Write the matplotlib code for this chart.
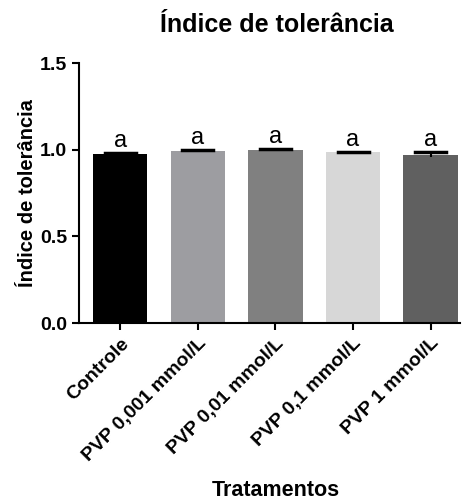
import numpy as np
import matplotlib.pyplot as plt

plt.rcParams['font.family'] = ['Liberation Sans', 'DejaVu Sans']
plt.rcParams['font.weight'] = 'bold'

tratamentos = ['Controle', 'PVP 0,001 mmol/L', 'PVP 0,01 mmol/L', 'PVP 0,1 mmol/L', 'PVP 1 mmol/L']
indice = [0.977, 0.994, 0.998, 0.984, 0.972]
erro = [0.004, 0.006, 0.006, 0.005, 0.015]
letras = ['a', 'a', 'a', 'a', 'a']
cores = ['#000000', '#9d9da1', '#808080', '#d7d7d7', '#606060']

fig = plt.figure(figsize=(4.62, 5.0), dpi=100)
ax = fig.add_axes([0.171, 0.354, 0.825, 0.52])

x = np.arange(len(tratamentos))
ax.bar(x, indice, 0.7, color=cores, yerr=erro, capsize=0,
       error_kw=dict(ecolor='black', elinewidth=1.5))
# tampa do erro (linha horizontal)
for xi, v, e in zip(x, indice, erro):
    ax.plot([xi - 0.2, xi + 0.2], [v + e, v + e], color='black', lw=2.5)

for xi, v, e, l in zip(x, indice, erro, letras):
    ax.text(xi, v + e + 0.035, l, ha='center', va='baseline', fontsize=17, fontweight='normal')

ax.set_ylim(0, 1.5)
ax.set_xlim(-0.53, 4.38)
ax.set_yticks([0.0, 0.5, 1.0, 1.5])
ax.set_yticklabels(['0.0', '0.5', '1.0', '1.5'])
ax.set_xticks(x)
ax.set_xticklabels(tratamentos, rotation=45, ha='right', rotation_mode='anchor')

ax.spines['top'].set_visible(False)
ax.spines['right'].set_visible(False)
ax.spines['left'].set_linewidth(1.5)
ax.spines['bottom'].set_linewidth(1.5)
ax.tick_params(axis='both', width=1.5, length=5, labelsize=14)

ax.set_ylabel('Índice de tolerância', fontsize=14.5, fontweight='bold', labelpad=2)
fig.text(276 / 462, 0.02, 'Tratamentos', fontsize=15.5, fontweight='bold',
         ha='center', va='center')
ax.set_title('Índice de tolerância', fontsize=18, fontweight='bold', pad=22, x=0.52)

fig.savefig('out.png', dpi=100)
